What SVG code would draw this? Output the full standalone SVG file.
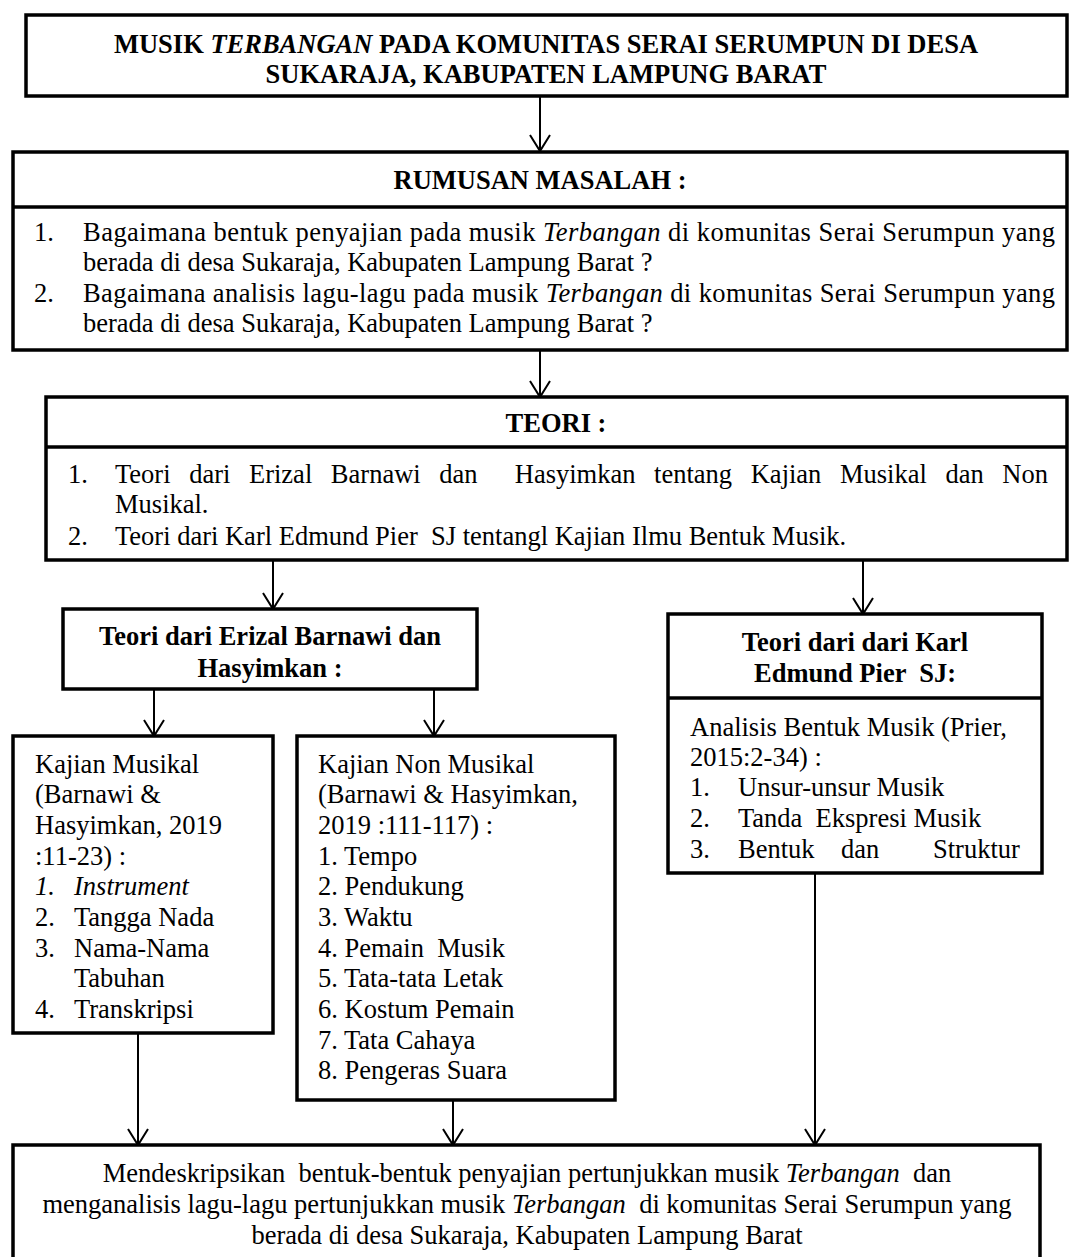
<svg xmlns="http://www.w3.org/2000/svg" width="1076" height="1257" viewBox="0 0 1076 1257">
<style>
text{font-family:"Liberation Serif","Times New Roman",serif;font-size:26.5px;fill:#000;white-space:pre}
.b{font-weight:bold}
.i{font-style:italic}
.c{text-anchor:middle}
.box{fill:#fff;stroke:#000;stroke-width:3.5}
.div{stroke:#000;stroke-width:3.5}
.con{fill:none;stroke:#000;stroke-width:2}
</style>
<defs>
<marker id="ah" viewBox="-1 -11 19 22" markerWidth="19" markerHeight="22" refX="16" refY="0" orient="auto" markerUnits="userSpaceOnUse">
<path d="M0,-10 L16,0 L0,10" fill="none" stroke="#000" stroke-width="2"/>
</marker>
</defs>
<g id="connectors">
<line class="con" x1="540" y1="96" x2="540" y2="151" marker-end="url(#ah)"/>
<line class="con" x1="540" y1="350" x2="540" y2="397" marker-end="url(#ah)"/>
<line class="con" x1="273" y1="560" x2="273" y2="609" marker-end="url(#ah)"/>
<line class="con" x1="863" y1="560" x2="863" y2="614" marker-end="url(#ah)"/>
<line class="con" x1="154" y1="689" x2="154" y2="736" marker-end="url(#ah)"/>
<line class="con" x1="434" y1="689" x2="434" y2="736" marker-end="url(#ah)"/>
<line class="con" x1="138" y1="1033" x2="138" y2="1145" marker-end="url(#ah)"/>
<line class="con" x1="453" y1="1100" x2="453" y2="1145" marker-end="url(#ah)"/>
<line class="con" x1="815" y1="873" x2="815" y2="1145" marker-end="url(#ah)"/>
</g>
<g id="title">
<rect class="box" x="26" y="15" width="1041" height="81"/>
<text class="b c" x="546" y="53">MUSIK <tspan class="i">TERBANGAN</tspan> PADA KOMUNITAS SERAI SERUMPUN DI DESA</text>
<text class="b c" x="546" y="83">SUKARAJA, KABUPATEN LAMPUNG BARAT</text>
</g>
<g id="rumusan">
<rect class="box" x="13" y="152" width="1054" height="198"/>
<line class="div" x1="13" y1="207" x2="1067" y2="207"/>
<text class="b c" x="540" y="189">RUMUSAN MASALAH :</text>
<text x="34" y="241">1.</text>
<text x="83" y="241" textLength="972" lengthAdjust="spacing">Bagaimana bentuk penyajian pada musik <tspan class="i">Terbangan</tspan> di komunitas Serai Serumpun yang</text>
<text x="83" y="271">berada di desa Sukaraja, Kabupaten Lampung Barat ?</text>
<text x="34" y="302">2.</text>
<text x="83" y="302" textLength="972" lengthAdjust="spacing">Bagaimana analisis lagu-lagu pada musik <tspan class="i">Terbangan</tspan> di komunitas Serai Serumpun yang</text>
<text x="83" y="332">berada di desa Sukaraja, Kabupaten Lampung Barat ?</text>
</g>
<g id="teori">
<rect class="box" x="46" y="397" width="1021" height="163"/>
<line class="div" x1="46" y1="447" x2="1067" y2="447"/>
<text class="b c" x="556" y="432">TEORI :</text>
<text x="68" y="483">1.</text>
<text x="115" y="483" style="word-spacing:12px">Teori dari Erizal Barnawi dan  Hasyimkan tentang Kajian Musikal dan Non</text>
<text x="115" y="513">Musikal.</text>
<text x="68" y="545">2.</text>
<text x="115" y="545">Teori dari Karl Edmund Pier  SJ tentangl Kajian Ilmu Bentuk Musik.</text>
</g>
<g id="teori-erizal">
<rect class="box" x="63" y="609" width="414" height="80"/>
<text class="b c" x="270" y="645">Teori dari Erizal Barnawi dan</text>
<text class="b c" x="270" y="677">Hasyimkan :</text>
</g>
<g id="teori-karl">
<rect class="box" x="668" y="614" width="374" height="259"/>
<line class="div" x1="668" y1="698" x2="1042" y2="698"/>
<text class="b c" x="855" y="651">Teori dari dari Karl</text>
<text class="b c" x="855" y="682">Edmund Pier  SJ:</text>
<text x="690" y="736">Analisis Bentuk Musik (Prier,</text>
<text x="690" y="766">2015:2-34) :</text>
<text x="690" y="796">1.</text>
<text x="738" y="796">Unsur-unsur Musik</text>
<text x="690" y="827">2.</text>
<text x="738" y="827">Tanda  Ekspresi Musik</text>
<text x="690" y="858">3.</text>
<text x="738" y="858">Bentuk</text>
<text x="841" y="858">dan</text>
<text x="933" y="858">Struktur</text>
</g>
<g id="kajian-musikal">
<rect class="box" x="13" y="736" width="260" height="297"/>
<text x="35" y="773">Kajian Musikal</text>
<text x="35" y="803">(Barnawi &amp;</text>
<text x="35" y="834">Hasyimkan, 2019</text>
<text x="35" y="865">:11-23) :</text>
<text class="i" x="35" y="895">1.</text>
<text class="i" x="74" y="895">Instrument</text>
<text x="35" y="926">2.</text>
<text x="74" y="926">Tangga Nada</text>
<text x="35" y="957">3.</text>
<text x="74" y="957">Nama-Nama</text>
<text x="74" y="987">Tabuhan</text>
<text x="35" y="1018">4.</text>
<text x="74" y="1018">Transkripsi</text>
</g>
<g id="kajian-non-musikal">
<rect class="box" x="297" y="736" width="318" height="364"/>
<text x="318" y="773">Kajian Non Musikal</text>
<text x="318" y="803">(Barnawi &amp; Hasyimkan,</text>
<text x="318" y="834">2019 :111-117) :</text>
<text x="318" y="865">1. Tempo</text>
<text x="318" y="895">2. Pendukung</text>
<text x="318" y="926">3. Waktu</text>
<text x="318" y="957">4. Pemain  Musik</text>
<text x="318" y="987">5. Tata-tata Letak</text>
<text x="318" y="1018">6. Kostum Pemain</text>
<text x="318" y="1049">7. Tata Cahaya</text>
<text x="318" y="1079">8. Pengeras Suara</text>
</g>
<g id="kesimpulan">
<rect class="box" x="13" y="1145" width="1027" height="130"/>
<text class="c" x="527" y="1182">Mendeskripsikan  bentuk-bentuk penyajian pertunjukkan musik <tspan class="i">Terbangan</tspan>  dan</text>
<text class="c" x="527" y="1213">menganalisis lagu-lagu pertunjukkan musik <tspan class="i">Terbangan</tspan>  di komunitas Serai Serumpun yang</text>
<text class="c" x="527" y="1244">berada di desa Sukaraja, Kabupaten Lampung Barat</text>
</g>
</svg>
